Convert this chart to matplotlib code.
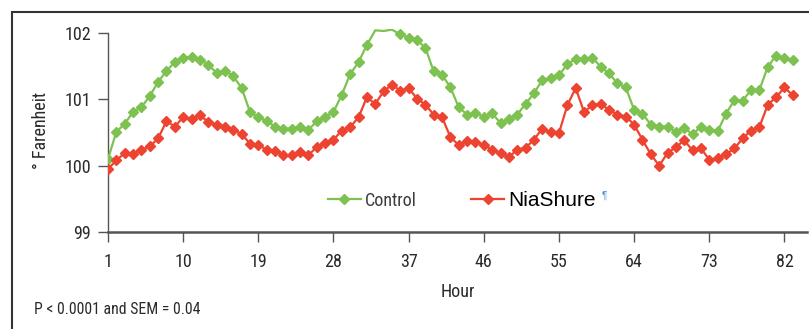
import matplotlib
matplotlib.use("Agg")
import matplotlib.pyplot as plt
from matplotlib.patches import Rectangle
from matplotlib import font_manager

hours = list(range(1, 84))
control = [100.10, 100.51, 100.63, 100.81, 100.88, 101.05, 101.26, 101.43, 101.56, 101.63,
           101.64, 101.60, 101.52, 101.40, 101.43, 101.35, 101.17, 100.81, 100.73, 100.67,
           100.59, 100.56, 100.56, 100.59, 100.54, 100.67, 100.73, 100.81, 101.07, 101.38,
           101.56, 101.82, 102.04, 102.03, 102.05, 101.98, 101.93, 101.89, 101.78, 101.42,
           101.37, 101.18, 100.88, 100.77, 100.79, 100.74, 100.79, 100.64, 100.71, 100.77,
           100.93, 101.09, 101.29, 101.32, 101.36, 101.53, 101.61, 101.61, 101.63, 101.49,
           101.39, 101.24, 101.18, 100.84, 100.78, 100.62, 100.59, 100.59, 100.51, 100.57,
           100.47, 100.59, 100.54, 100.52, 100.78, 100.99, 100.98, 101.14, 101.14, 101.49,
           101.66, 101.63, 101.59]
niashure = [99.95, 100.08, 100.19, 100.18, 100.24, 100.29, 100.41, 100.67, 100.59, 100.73,
            100.70, 100.76, 100.66, 100.62, 100.59, 100.54, 100.48, 100.33, 100.31, 100.24,
            100.22, 100.16, 100.16, 100.21, 100.16, 100.28, 100.34, 100.39, 100.53, 100.58,
            100.73, 101.03, 100.93, 101.12, 101.22, 101.13, 101.17, 101.01, 100.92, 100.77,
            100.73, 100.43, 100.31, 100.37, 100.36, 100.31, 100.24, 100.19, 100.13, 100.24,
            100.27, 100.39, 100.56, 100.51, 100.49, 100.91, 101.17, 100.81, 100.91, 100.93,
            100.84, 100.77, 100.74, 100.62, 100.39, 100.17, 100.00, 100.19, 100.28, 100.38,
            100.23, 100.26, 100.09, 100.11, 100.17, 100.26, 100.41, 100.53, 100.58, 100.92,
            101.03, 101.18, 101.06]
xticks = [1, 10, 19, 28, 37, 46, 55, 64, 73, 82]
yticks = [99, 100, 101, 102]
series_names = ["Control", "NiaShure"]

avail = {f.name for f in font_manager.fontManager.ttflist}
prefs = ['Liberation Sans Narrow', 'Arial Narrow', 'Roboto Condensed', 'PT Sans Narrow',
         'Archivo Narrow', 'Pragati Narrow', 'Open Sans Condensed', 'Liberation Sans']
narrow = next((p for p in prefs if p in avail), 'DejaVu Sans')
plt.rcParams['font.family'] = [narrow, 'DejaVu Sans']

green = "#7dc250"
red = "#ec4430"
axis_col = "#555555"
txt_col = "#2a2a2a"

fig = plt.figure(figsize=(8.09, 3.29), dpi=100)
ax = fig.add_axes([108/809, 1-232/329, (807-108)/809, (232-29)/329])

ymax = 102.06
ctrl_marks = [i for i, v in enumerate(control) if v <= 102]
ax.plot(hours, control, color=green, lw=1.6, marker='D', markersize=5.5,
        markevery=ctrl_marks, label=series_names[0], zorder=3)
ax.plot(hours, niashure, color=red, lw=1.6, marker='D', markersize=5.5,
        label=series_names[1], zorder=3)

ax.set_xlim(1, 84.7)
ax.set_ylim(99, ymax)
ax.set_xticks(xticks)
ax.set_yticks(yticks)
for s in ['top', 'right']:
    ax.spines[s].set_visible(False)
ax.spines['left'].set_bounds(99, 102)
for s in ['left', 'bottom']:
    ax.spines[s].set_color(axis_col)
ax.spines['bottom'].set_linewidth(1.8)
ax.spines['left'].set_linewidth(1.0)
ax.tick_params(axis='both', direction='out', length=7, width=1, color=axis_col,
               labelsize=13, labelcolor=txt_col)
ax.tick_params(axis='y', pad=5)
ax.tick_params(axis='x', pad=8)
ax.set_xlabel("Hour", fontsize=13, color=txt_col, labelpad=9)
ax.set_ylabel("° Farenheit", fontsize=13, color=txt_col, labelpad=10.5)

leg = ax.legend(loc='center', bbox_to_anchor=(462/809, 1-200/329), bbox_transform=fig.transFigure,
                ncol=2, frameon=False, fontsize=13, handlelength=1.8, handletextpad=0.25,
                columnspacing=3.0, borderpad=0, markerscale=0.85)
leg.get_texts()[1].set_fontsize(15)
leg.get_texts()[1].set_fontfamily(['Liberation Sans', 'DejaVu Sans'])
leg.get_texts()[1].set_color('#000000')
leg.get_texts()[0].set_color('#3a3a3a')

fig.text(602/809, 1-196/329, "¶", fontsize=7, color="#4a8fd6", va='center', ha='left',
         family=['Liberation Sans', 'DejaVu Sans'])
fig.text(34/809, 1-310/329, "P < 0.0001 and SEM = 0.04", fontsize=11.3, color=txt_col,
         va='center', ha='left')

fig.patches.append(Rectangle((12/809, -0.1), 1.2, 1-12/329+0.1, transform=fig.transFigure,
                             fill=False, edgecolor='#333333', lw=1.5))

fig.savefig("out.png", dpi=100)
